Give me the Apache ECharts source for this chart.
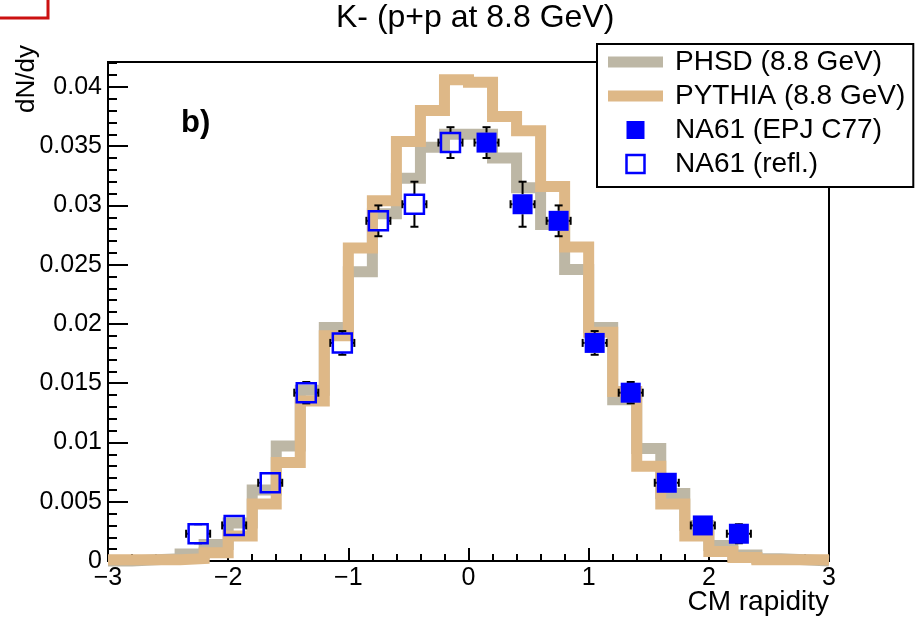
<!DOCTYPE html>
<html>
<head>
<meta charset="utf-8">
<script src="https://cdn.jsdelivr.net/npm/echarts@6/dist/echarts.min.js"></script>
<style>html,body{margin:0;padding:0;background:#fff}#chart{width:922px;height:621px}</style>
</head>
<body>
<div id="chart"></div>
<script>
// ---- data ----
const binEdges = [-3.0,-2.8,-2.6,-2.4,-2.2,-2.0,-1.8,-1.6,-1.4,-1.2,-1.0,-0.8,-0.6,-0.4,-0.2,0.0,0.2,0.4,0.6,0.8,1.0,1.2,1.4,1.6,1.8,2.0,2.2,2.4,2.6,2.8,3.0];
const phsdValues = [0.0000,0.0001,0.0002,0.0006,0.0014,0.0032,0.0060,0.0097,0.0144,0.0197,0.0244,0.0293,0.0323,0.0349,0.0360,0.0360,0.0340,0.0315,0.0284,0.0246,0.0197,0.0136,0.0095,0.0057,0.0030,0.0013,0.0005,0.0002,0.0001,0.0000];
const pythiaValues = [0.0001,0.0001,0.0001,0.0002,0.0007,0.0021,0.0048,0.0083,0.0135,0.0190,0.0264,0.0304,0.0354,0.0380,0.0406,0.0404,0.0375,0.0363,0.0316,0.0265,0.0193,0.0143,0.0080,0.0048,0.0021,0.0008,0.0003,0.0001,0.0001,0.0001];

const na61X = [0.15,0.45,0.75,1.05,1.35,1.65,1.95,2.25];
const na61Y = [0.0353,0.0301,0.0287,0.0184,0.0142,0.0066,0.0030,0.0023];
const na61YErr = [0.0013,0.0019,0.0013,0.0010,0.0009,0.0006,0.0004,0.0008];
const na61XErr = [0.1,0.1,0.1,0.1,0.1,0.1,0.1,0.1];

const reflX = [-0.15,-0.45,-0.75,-1.05,-1.35,-1.65,-1.95,-2.25];
const reflY = [0.0353,0.0301,0.0287,0.0184,0.0142,0.0066,0.0030,0.0023];
const reflYErr = [0.0013,0.0019,0.0013,0.0010,0.0009,0.0006,0.0004,0.0008];
const reflXErr = [0.1,0.1,0.1,0.1,0.1,0.1,0.1,0.1];

const xTickLabels = ['\u22123','\u22122','\u22121','0','1','2','3'];
const yTickLabels = ['0','0.005','0.01','0.015','0.02','0.025','0.03','0.035','0.04'];

const seriesNames = ['PHSD (8.8 GeV)','PYTHIA (8.8 GeV)','NA61 (EPJ C77)','NA61 (refl.)'];

// ---- styling ----
const FONT = 'Liberation Sans, Arial, Helvetica, sans-serif';
const PHSD_COLOR = '#bdb7a5';
const PYTHIA_COLOR = '#deb887';
const BLUE = '#0000ff';
const MARKER_HALF = 10;

function stepData(vals) {
  const d = vals.map((v, i) => [binEdges[i], v]);
  d.push([binEdges[binEdges.length - 1], vals[vals.length - 1]]);
  return d;
}

function errorSeries(xs, ys, xe, ye) {
  return {
    type: 'custom',
    z: 3,
    silent: true,
    clip: false,
    data: xs.map((x, i) => [x, ys[i], xe[i], ye[i]]),
    encode: { x: 0, y: 1 },
    renderItem: function (params, api) {
      const x = api.value(0), y = api.value(1), ex = api.value(2), ey = api.value(3);
      const c = api.coord([x, y]);
      const l = api.coord([x - ex, y]), r = api.coord([x + ex, y]);
      const t = api.coord([x, y + ey]), b = api.coord([x, y - ey]);
      const st = { stroke: '#000', lineWidth: 2 };
      const cap = 4;
      const kids = [];
      const seg = (x1, y1, x2, y2) => kids.push({ type: 'line', shape: { x1, y1, x2, y2 }, style: st });
      if (c[0] - l[0] > MARKER_HALF - 1) {
        seg(l[0], c[1], c[0] - MARKER_HALF, c[1]);
        seg(r[0], c[1], c[0] + MARKER_HALF, c[1]);
        seg(l[0], c[1] - cap, l[0], c[1] + cap);
        seg(r[0], c[1] - cap, r[0], c[1] + cap);
      }
      if (b[1] - c[1] > MARKER_HALF - 1) {
        seg(c[0], t[1], c[0], c[1] - MARKER_HALF);
        seg(c[0], b[1], c[0], c[1] + MARKER_HALF);
        seg(c[0] - cap, t[1], c[0] + cap, t[1]);
        seg(c[0] - cap, b[1], c[0] + cap, b[1]);
      }
      return { type: 'group', children: kids };
    }
  };
}

const chart = echarts.init(document.getElementById('chart'), null, { renderer: 'canvas' });

const option = {
  animation: false,
  backgroundColor: '#fff',
  textStyle: { fontFamily: FONT, color: '#000' },
  title: {
    text: 'K- (p+p at 8.8 GeV)',
    left: 336,
    top: 2,
    padding: 0,
    textStyle: { fontFamily: FONT, fontSize: 32, fontWeight: 'normal', color: '#000' }
  },
  grid: {
    left: 108, right: 93, top: 62, bottom: 60,
    show: true, borderColor: '#000', borderWidth: 2, backgroundColor: 'transparent',
    outerBoundsMode: 'none', containLabel: false
  },
  legend: {
    orient: 'vertical',
    left: 597, top: 44,
    padding: [4, 8, 9, 11],
    itemWidth: 55, itemHeight: 18, itemGap: 6,
    backgroundColor: '#fff', borderColor: '#000', borderWidth: 2, borderRadius: 0,
    selectedMode: false,
    symbolKeepAspect: true,
    textStyle: { fontFamily: FONT, fontSize: 28, color: '#000', padding: [0, 0, 0, 7] },
    data: [
      { name: seriesNames[0], icon: 'path://M0,0H55V11H0Z', itemStyle: { color: PHSD_COLOR, borderWidth: 0 } },
      { name: seriesNames[1], icon: 'path://M0,0H55V11H0Z', itemStyle: { color: PYTHIA_COLOR, borderWidth: 0 } },
      { name: seriesNames[2], icon: 'path://M0,0H18V18H0Z', itemStyle: { color: BLUE, borderWidth: 0 } },
      { name: seriesNames[3], icon: 'path://M0,0H18V18H0Z', itemStyle: { color: 'rgba(0,0,0,0)', borderColor: BLUE, borderWidth: 2.5 } }
    ]
  },
  xAxis: {
    type: 'value', min: -3, max: 3, interval: 1,
    name: 'CM rapidity', nameLocation: 'end', nameGap: 0, nameMoveOverlap: false,
    nameTextStyle: { fontFamily: FONT, fontSize: 28, color: '#000', align: 'right', verticalAlign: 'top', padding: [27, 0, 0, 0] },
    axisLine: { show: true, onZero: false, lineStyle: { color: '#000', width: 2 } },
    axisTick: { show: true, inside: true, length: 13, lineStyle: { color: '#000', width: 2 } },
    minorTick: { show: true, splitNumber: 5, length: 7, lineStyle: { color: '#000', width: 2 } },
    splitLine: { show: false }, minorSplitLine: { show: false },
    axisLabel: {
      fontFamily: FONT, fontSize: 25, color: '#000', margin: 5,
      formatter: v => xTickLabels[Math.round(v) + 3]
    }
  },
  yAxis: [
    {
      type: 'value', min: 0, max: 0.0421, interval: 0.005,
      name: 'dN/dy', nameLocation: 'end', nameGap: 17, nameRotate: 90, nameMoveOverlap: false,
      nameTextStyle: { fontFamily: FONT, fontSize: 26, color: '#000', align: 'right', verticalAlign: 'bottom', padding: [0, 0, 68, 0] },
      axisLine: { show: true, onZero: false, lineStyle: { color: '#000', width: 2 } },
      axisTick: { show: true, inside: true, length: 20, lineStyle: { color: '#000', width: 2 } },
      minorTick: { show: false },
      splitLine: { show: false },
      axisLabel: {
        fontFamily: FONT, fontSize: 25, color: '#000', margin: 6, showMaxLabel: false,
        formatter: v => yTickLabels[Math.round(v / 0.005)]
      }
    },
    {
      type: 'value', min: 0, max: 0.0421, interval: 0.001, position: 'left', offset: 0,
      axisLine: { show: false, onZero: false },
      axisTick: { show: true, inside: true, length: 9, lineStyle: { color: '#000', width: 2 } },
      axisLabel: { show: false },
      splitLine: { show: false }
    }
  ],
  graphic: [
    { type: 'polyline', shape: { points: [[0, 18], [48, 18], [48, 0]] }, style: { stroke: '#cc1111', lineWidth: 3, fill: null }, z: 10 },
    { type: 'text', x: 181, y: 108, style: { text: 'b)', fontFamily: FONT, fontSize: 31, fontWeight: 'bold', fill: '#000', align: 'left', verticalAlign: 'top' }, z: 10 }
  ],
  series: [
    {
      name: seriesNames[0], type: 'line', step: 'end', data: stepData(phsdValues),
      yAxisIndex: 0, symbol: 'none', showSymbol: false, clip: false, z: 2,
      color: PHSD_COLOR, itemStyle: { color: PHSD_COLOR },
      lineStyle: { color: PHSD_COLOR, width: 11, cap: 'butt', join: 'miter' }
    },
    {
      name: seriesNames[1], type: 'line', step: 'end', data: stepData(pythiaValues),
      yAxisIndex: 0, symbol: 'none', showSymbol: false, clip: false, z: 2,
      color: PYTHIA_COLOR, itemStyle: { color: PYTHIA_COLOR },
      lineStyle: { color: PYTHIA_COLOR, width: 11, cap: 'butt', join: 'miter' }
    },
    errorSeries(na61X, na61Y, na61XErr, na61YErr),
    errorSeries(reflX, reflY, reflXErr, reflYErr),
    {
      name: seriesNames[2], type: 'scatter', z: 4, yAxisIndex: 0,
      data: na61X.map((x, i) => [x, na61Y[i]]),
      symbol: 'rect', symbolSize: 20,
      itemStyle: { color: BLUE, opacity: 1 }
    },
    {
      name: seriesNames[3], type: 'scatter', z: 4, yAxisIndex: 0,
      data: reflX.map((x, i) => [x, reflY[i]]),
      symbol: 'rect', symbolSize: 19,
      itemStyle: { color: 'rgba(0,0,0,0)', borderColor: BLUE, borderWidth: 2.5, opacity: 1 }
    }
  ]
};
chart.setOption(option);
</script>
</body>
</html>
